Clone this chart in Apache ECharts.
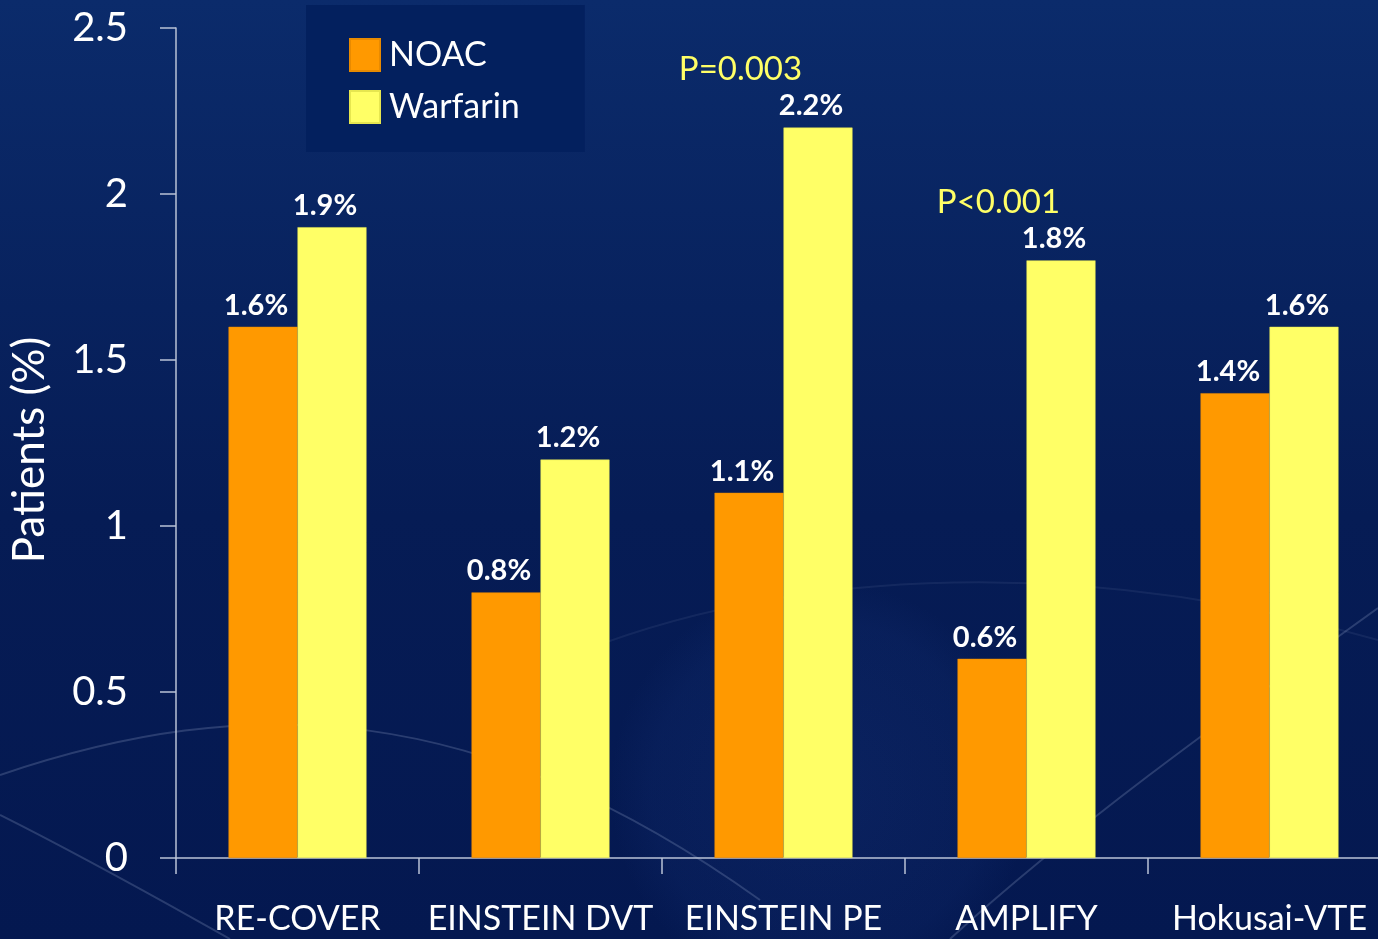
<!DOCTYPE html>
<html>
<head>
<meta charset="utf-8">
<script src="https://cdn.jsdelivr.net/npm/echarts@6/dist/echarts.min.js"></script>
<style>
  html, body { margin: 0; padding: 0; background: #0a2560; }
  #chart { width: 1378px; height: 939px; }
</style>
</head>
<body>
<div id="chart"></div>
<script>
// Recurrent VTE / bleeding rates per trial
const trials = ['RE-COVER', 'EINSTEIN DVT', 'EINSTEIN PE', 'AMPLIFY', 'Hokusai-VTE'];
const noac = [1.6, 0.8, 1.1, 0.6, 1.4];
const warfarin = [1.9, 1.2, 2.2, 1.8, 1.6];
const pValues = ['', '', 'P=0.003', 'P<0.001', ''];
const yTicks = { min: 0, max: 2.5, step: 0.5 };

const FONT = 'Lato, "Open Sans", "Noto Sans", sans-serif';
const chart = echarts.init(document.getElementById('chart'), null, { renderer: 'canvas' });

const valueLabel = {
  show: true,
  position: 'top',
  distance: 7,
  offset: [-7, 0],
  color: '#ffffff',
  fontFamily: FONT,
  fontWeight: 'bold',
  fontSize: 29,
  formatter: p => p.value + '%'
};

// faint decorative arcs in the backdrop
const arcStyle = { stroke: 'rgba(190,205,235,0.20)', lineWidth: 2, fill: null };
const backdrop = [
  {
    type: 'ellipse', shape: { cx: 820, cy: 790, rx: 760, ry: 210 },
    style: {
      fill: {
        type: 'radial', x: 0.5, y: 0.5, r: 0.5,
        colorStops: [
          { offset: 0, color: 'rgba(45,85,175,0.14)' },
          { offset: 0.8, color: 'rgba(45,85,175,0.08)' },
          { offset: 1, color: 'rgba(45,85,175,0)' }
        ]
      }
    },
    z: -10, silent: true
  },
  { type: 'bezierCurve', shape: { x1: 0, y1: 775, cpx1: 250, cpy1: 690, cpx2: 480, cpy2: 700, x2: 760, y2: 900 }, style: arcStyle, z: -9, silent: true },
  { type: 'bezierCurve', shape: { x1: 0, y1: 815, cpx1: 90, cpy1: 860, cpx2: 160, cpy2: 900, x2: 230, y2: 939 }, style: arcStyle, z: -9, silent: true },
  { type: 'bezierCurve', shape: { x1: 1378, y1: 608, cpx1: 1250, cpy1: 700, cpx2: 1080, cpy2: 820, x2: 950, y2: 939 }, style: arcStyle, z: -9, silent: true },
  { type: 'bezierCurve', shape: { x1: 560, y1: 660, cpx1: 800, cpy1: 560, cpx2: 1100, cpy2: 560, x2: 1378, y2: 640 }, style: { stroke: 'rgba(190,205,235,0.08)', lineWidth: 2, fill: null }, z: -9, silent: true }
];

chart.setOption({
  backgroundColor: {
    type: 'linear', x: 0, y: 0, x2: 0, y2: 1,
    colorStops: [
      { offset: 0, color: '#0b2b6b' },
      { offset: 0.55, color: '#061c55' },
      { offset: 1, color: '#041850' }
    ]
  },
  animation: false,
  textStyle: { fontFamily: FONT },
  grid: { left: 176, top: 28, width: 1215, height: 830, containLabel: false, outerBoundsMode: 'none' },
  legend: {
    data: ['NOAC', 'Warfarin'],
    orient: 'vertical',
    left: 306,
    top: 5,
    padding: [33, 65, 28, 43],
    backgroundColor: '#03205e',
    itemWidth: 30,
    itemHeight: 32,
    itemGap: 18,
    icon: 'rect',
    textStyle: { color: '#ffffff', fontSize: 34, fontFamily: FONT, padding: [0, 0, 0, 4] }
  },
  xAxis: {
    type: 'category',
    data: trials,
    axisLine: { show: true, lineStyle: { color: '#b9c2d6', width: 1.5 } },
    axisTick: { show: true, length: 16, alignWithLabel: false, lineStyle: { color: '#b9c2d6', width: 1.5 } },
    axisLabel: { color: '#ffffff', fontSize: 34, fontFamily: FONT, margin: 44, interval: 0 },
    splitLine: { show: false }
  },
  yAxis: {
    type: 'value',
    min: yTicks.min,
    max: yTicks.max,
    interval: yTicks.step,
    name: 'Patients (%)',
    nameLocation: 'middle',
    nameGap: 124,
    nameTextStyle: { color: '#ffffff', fontSize: 44, fontFamily: FONT, padding: [0, 14, 0, 0] },
    axisLine: { show: true, lineStyle: { color: '#b9c2d6', width: 1.5 } },
    axisTick: { show: true, length: 16, lineStyle: { color: '#b9c2d6', width: 1.5 } },
    axisLabel: { color: '#ffffff', fontSize: 40, fontFamily: FONT, margin: 48 },
    splitLine: { show: false }
  },
  series: [
    {
      name: 'NOAC', type: 'bar', data: noac, barWidth: 69, barGap: '0%',
      itemStyle: { color: '#ff9900', borderColor: '#e88a00', borderWidth: 0.5 },
      label: valueLabel
    },
    {
      name: 'Warfarin', type: 'bar', data: warfarin, barWidth: 69,
      itemStyle: { color: '#ffff66', borderColor: '#e6e650', borderWidth: 0.5 },
      label: valueLabel
    }
  ],
  graphic: backdrop
});

// significance notes, set above the warfarin bar of their trial
const noteShift = [0, 0, -43, -28, 0];
const notes = [];
pValues.forEach((txt, i) => {
  if (!txt) return;
  const [cx, top] = chart.convertToPixel({ gridIndex: 0 }, [i, warfarin[i]]);
  notes.push({
    type: 'text',
    x: cx + noteShift[i],
    y: top - 58,
    z: 10,
    style: {
      text: txt,
      fill: '#ffff66',
      fontSize: 33,
      fontFamily: FONT,
      align: 'center',
      verticalAlign: 'middle'
    }
  });
});
chart.setOption({ graphic: backdrop.concat(notes) });
</script>
</body>
</html>
